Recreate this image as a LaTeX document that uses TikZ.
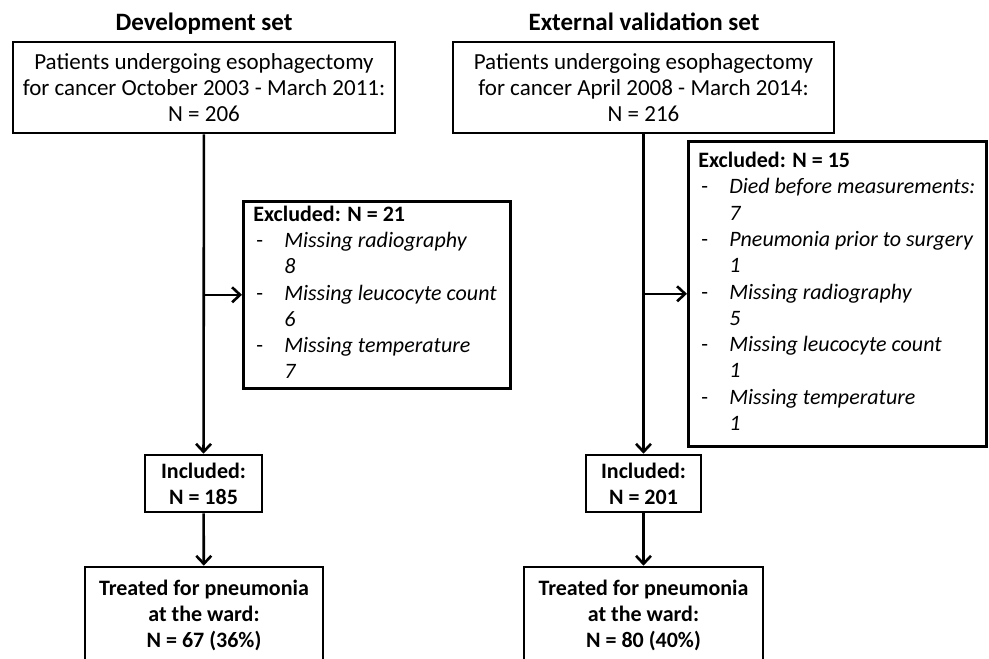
\documentclass[tikz,border=0pt]{standalone}
\usepackage{fontspec}
\setmainfont{Carlito}
\usetikzlibrary{arrows.meta,positioning}
\tikzstyle{block} = [rectangle, draw, line width=2.6pt, align=center,
    inner sep=0pt, font=\fontsize{23}{26}\selectfont]
\tikzstyle{boldblock} = [block, font=\bfseries\fontsize{22}{26}\selectfont]
\tikzstyle{exclude} = [rectangle, draw, line width=2.6pt,
    anchor=north west, inner xsep=10pt, inner ysep=0pt, font=\fontsize{22}{26.3}\selectfont]
\tikzstyle{heading} = [anchor=base, font=\bfseries\fontsize{25}{28}\selectfont]
\tikzstyle{line} = [draw, line width=2.6pt, -{Straight Barb[length=8pt,width=15pt]}]
\newcommand{\exitem}[2]{\hspace{3pt}- & \itshape #1\\ & \itshape #2}

\begin{document}
\begin{tikzpicture}[x=1pt,y=-1pt]
    \useasboundingbox (0,0) rectangle (989,659);
    \clip (0,0) rectangle (989,659);
    % Development set
    \node[heading] (devtitle) at (204,30) {Development set};
    \node[block, minimum width=382pt, minimum height=91pt] (devtop) at (204,87.5)
        {Patients undergoing esophagectomy\\for cancer October 2003 - March 2011:\\N = 206};
    \node[exclude, minimum height=187pt] (devexcl) at (242,200)
        {\makebox[247pt][l]{\begin{tabular}{@{}p{31pt}@{}l@{}}
         \multicolumn{2}{@{}l@{}}{\bfseries Excluded: N = 21}\\
         \exitem{Missing radiography}{8}\\
         \exitem{Missing leucocyte count}{6}\\
         \exitem{Missing temperature}{7}
         \end{tabular}}};
    \node[boldblock, minimum width=117pt, minimum height=57pt] (devincl) at (203.5,483.5)
        {Included:\\N = 185};
    \node[boldblock, minimum width=238pt, minimum height=96pt] (devtreat) at (204,615)
        {Treated for pneumonia\\at the ward:\\N = 67 (36\%)};
    % External validation set
    \node[heading] (valtitle) at (644,30) {External validation set};
    \node[block, minimum width=381pt, minimum height=91pt] (valtop) at (643.5,87.5)
        {Patients undergoing esophagectomy\\for cancer April 2008 - March 2014:\\N = 216};
    \node[exclude, minimum height=305pt] (valexcl) at (687,140)
        {\makebox[278pt][l]{\begin{tabular}{@{}p{31pt}@{}l@{}}
         \multicolumn{2}{@{}l@{}}{\bfseries Excluded: N = 15}\\
         \exitem{Died before measurements:}{7}\\
         \exitem{Pneumonia prior to surgery}{1}\\
         \exitem{Missing radiography}{5}\\
         \exitem{Missing leucocyte count}{1}\\
         \exitem{Missing temperature}{1}
         \end{tabular}}};
    \node[boldblock, minimum width=115pt, minimum height=57pt] (valincl) at (643.5,483.5)
        {Included:\\N = 201};
    \node[boldblock, minimum width=239pt, minimum height=96pt] (valtreat) at (643.5,615)
        {Treated for pneumonia\\at the ward:\\N = 80 (40\%)};
    % Draw edges
    \path[line] (devtop) -- (devincl);
    \path[line] (devtop.south |- devexcl.west) -- (devexcl.west);
    \path[line] (devincl) -- (devtreat);
    \path[line] (valtop) -- (valincl);
    \path[line] (valtop.south |- valexcl.west) -- (valexcl.west);
    \path[line] (valincl) -- (valtreat);
\end{tikzpicture}
\end{document}
